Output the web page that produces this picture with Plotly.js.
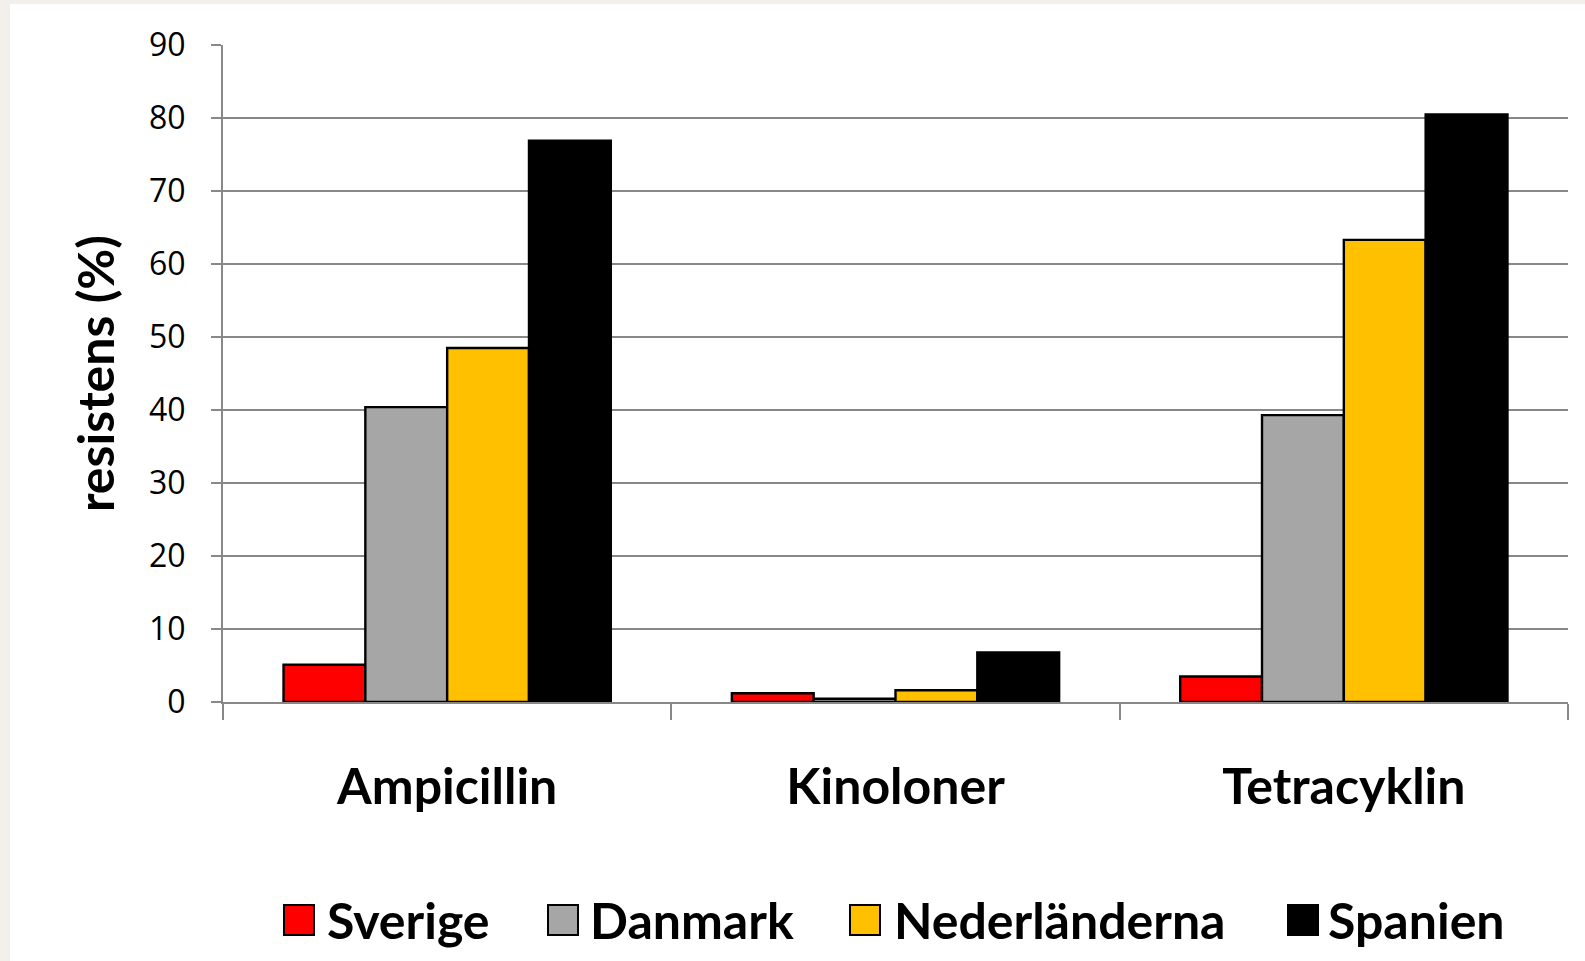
<!DOCTYPE html>
<html>
<head>
<meta charset="utf-8">
<script src="https://cdn.plot.ly/plotly-3.0.1.min.js"></script>
<style>
  html, body { margin: 0; padding: 0; background: #f3f0eb; width: 1585px; height: 961px; overflow: hidden; }
  #chart { position: absolute; left: 10px; top: 4px; width: 1575px; height: 957px; background: #ffffff; }
</style>
</head>
<body>
<div id="chart"></div>
<script>
// Data
var categories = ["Ampicillin", "Kinoloner", "Tetracyklin"];
var seriesNames = ["Sverige", "Danmark", "Nederländerna", "Spanien"];
var sverige = [5.1, 1.2, 3.5];
var danmark = [40.4, 0.45, 39.3];
var nederlanderna = [48.5, 1.6, 63.3];
var spanien = [76.9, 6.8, 80.5];
var yTickValues = [0, 10, 20, 30, 40, 50, 60, 70, 80, 90];

var seriesValues = [sverige, danmark, nederlanderna, spanien];
var colors = ["#ff0000", "#a6a6a6", "#ffc000", "#000000"];

var W = 1575, H = 957;
var margin = { l: 213, r: 17, t: 41, b: 259 };
var plotW = W - margin.l - margin.r;
var plotH = H - margin.t - margin.b;
function px2x(px) { return (px - margin.l) / plotW; }
function px2y(py) { return (H - margin.b - py) / plotH; }

var traces = seriesNames.map(function (name, i) {
  return {
    type: "bar",
    name: name,
    x: categories,
    y: seriesValues[i],
    marker: { color: colors[i], line: { color: "#000000", width: 2.4 } },
    showlegend: false,
    hoverinfo: "x+y+name"
  };
});

// Manual legend (large square swatches like the original)
var swatchLeft = [273, 537, 839, 1277];
var labelLeft = [315, 578, 882, 1316];
var legendY = 916;
var annotations = [];
seriesNames.forEach(function (name, i) {
  annotations.push({
    xref: "paper", yref: "paper",
    x: px2x(swatchLeft[i]), y: px2y(legendY),
    xanchor: "left", yanchor: "middle",
    text: " ", showarrow: false,
    width: 28, height: 28,
    bgcolor: colors[i], bordercolor: "#000000", borderwidth: 2, borderpad: 0,
    font: { size: 10 }
  });
  annotations.push({
    xref: "paper", yref: "paper",
    x: px2x(labelLeft[i]), y: px2y(legendY),
    xanchor: "left", yanchor: "middle",
    text: "<b>" + name + "</b>", showarrow: false,
    font: { family: "Lato, 'Open Sans', sans-serif", size: 50, color: "#000000" }
  });
});

var axisGray = "#888888";
var layout = {
  width: W, height: H,
  margin: margin,
  paper_bgcolor: "#ffffff",
  plot_bgcolor: "#ffffff",
  barmode: "group",
  bargap: 0.27,
  bargroupgap: 0,
  showlegend: false,
  xaxis: {
    type: "category",
    showline: true, linecolor: axisGray, linewidth: 2,
    ticks: "outside", tickson: "boundaries", ticklen: 16, tickwidth: 2, tickcolor: axisGray,
    showgrid: false,
    tickfont: { family: "Lato, 'Open Sans', sans-serif", size: 50, color: "#000000", weight: "bold" },
    ticklabelstandoff: 40
  },
  yaxis: {
    range: [0, 90],
    tickvals: yTickValues,
    ticktext: yTickValues.map(String),
    showline: true, linecolor: axisGray, linewidth: 2,
    showgrid: true, gridcolor: axisGray, gridwidth: 2,
    zeroline: false,
    ticks: "outside", ticklen: 10, tickwidth: 2, tickcolor: axisGray,
    tickfont: { family: "'Open Sans', sans-serif", size: 32, color: "#000000" },
    ticklabelstandoff: 19,
    title: {
      text: "<b>resistens (%)</b>",
      font: { family: "Lato, 'Open Sans', sans-serif", size: 50, color: "#000000" },
      standoff: 19
    }
  },
  annotations: annotations
};

Plotly.newPlot("chart", traces, layout, { displayModeBar: false, staticPlot: true });
</script>
</body>
</html>
